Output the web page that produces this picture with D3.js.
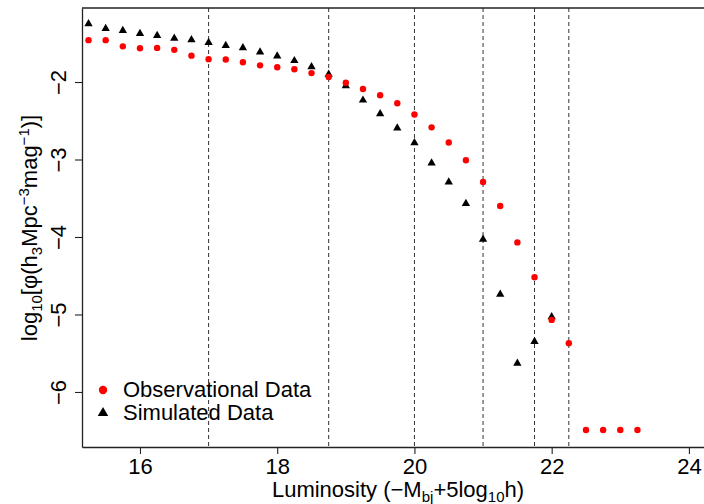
<!DOCTYPE html>
<html>
<head>
<meta charset="utf-8">
<script src="https://cdn.jsdelivr.net/npm/d3@7"></script>
<style>
  body { margin: 0; background: #fff; }
  text { font-family: "Liberation Sans", Arial, sans-serif; }
</style>
</head>
<body>
<svg id="chart" width="704" height="504"></svg>
<script>
// luminosity bins
var obsX = [15.25, 15.5, 15.75, 16, 16.25, 16.5, 16.75, 17, 17.25, 17.5, 17.75, 18, 18.25, 18.5, 18.75,
  19, 19.25, 19.5, 19.75, 20, 20.25, 20.5, 20.75, 21, 21.25, 21.5, 21.75, 22, 22.25, 22.5, 22.75, 23, 23.25];
var obsY = [-1.46, -1.46, -1.54, -1.565, -1.56, -1.585, -1.66, -1.705, -1.71, -1.745, -1.785, -1.81, -1.835, -1.885, -1.935,
  -2.01, -2.09, -2.17, -2.275, -2.42, -2.585, -2.78, -3.01, -3.29, -3.6, -4.07, -4.52, -5.07, -5.37, -6.49, -6.49, -6.49, -6.49];

var simX = [15.25, 15.5, 15.75, 16, 16.25, 16.5, 16.75, 17, 17.25, 17.5, 17.75, 18, 18.25, 18.5, 18.75,
  19, 19.25, 19.5, 19.75, 20, 20.25, 20.5, 20.75, 21, 21.25, 21.5, 21.75, 22];
var simY = [-1.25, -1.31, -1.335, -1.375, -1.4, -1.435, -1.455, -1.49, -1.53, -1.56, -1.615, -1.665, -1.725, -1.805, -1.9,
  -2.05, -2.235, -2.41, -2.595, -2.785, -3.045, -3.29, -3.57, -4.03, -4.74, -5.63, -5.35, -5.03];

var cutLines = [17, 18.75, 20, 21, 21.75, 22.25];
var xTicks = [16, 18, 20, 22, 24];
var yTicks = [-2, -3, -4, -5, -6];

(function () {
var svg = d3.select("#chart");
var W = 704;
var pLeft = 82, pTop = 8, pBottom = 447;
var fs = 22;

var x = d3.scaleLinear().domain([15.155, 24.22]).range([pLeft, W]);
var y = d3.scaleLinear().domain([-6.71, -1.045]).range([pBottom, pTop]);

// dashed cut lines
svg.selectAll(".cut")
  .data(cutLines)
  .enter()
  .append("line")
  .attr("x1", d => x(d)).attr("x2", d => x(d))
  .attr("y1", pTop).attr("y2", pBottom)
  .attr("stroke", "#333")
  .attr("stroke-width", 1)
  .attr("stroke-dasharray", "4,3");

// frame top
svg.append("line")
  .attr("x1", pLeft).attr("x2", W)
  .attr("y1", pTop).attr("y2", pTop)
  .attr("stroke", "#222").attr("stroke-width", 1.3);

// axes
var xAxis = svg.append("g")
  .attr("transform", "translate(0," + pBottom + ")")
  .call(d3.axisBottom(x).tickValues(xTicks).tickSize(7).tickSizeOuter(0).tickPadding(4));
var yAxis = svg.append("g")
  .attr("transform", "translate(" + pLeft + ",0)")
  .call(d3.axisLeft(y).tickValues(yTicks).tickSize(7).tickSizeOuter(0)
    .tickFormat(d => "\u2212" + Math.abs(d)));

[xAxis, yAxis].forEach(function (g) {
  g.select(".domain").attr("stroke", "#222").attr("stroke-width", 1.3);
  g.selectAll(".tick line").attr("stroke", "#222").attr("stroke-width", 1.1);
  g.selectAll("text").attr("font-size", fs).attr("fill", "#000")
    .style("font-family", "'Liberation Sans', Arial, sans-serif");
});

// y tick labels are vertical like in R
yAxis.selectAll(".tick text")
  .attr("x", 0).attr("dy", 0)
  .attr("text-anchor", "middle")
  .attr("transform", "translate(-16,0) rotate(-90)");

// simulated data triangles
var tri = d3.symbol().type(d3.symbolTriangle).size(30);
svg.selectAll(".sim")
  .data(simX.map((d, i) => [d, simY[i]]))
  .enter()
  .append("path")
  .attr("d", tri)
  .attr("transform", d => "translate(" + x(d[0]) + "," + y(d[1]) + ")")
  .attr("fill", "#000");

// observational data circles
svg.selectAll(".obs")
  .data(obsX.map((d, i) => [d, obsY[i]]))
  .enter()
  .append("circle")
  .attr("cx", d => x(d[0]))
  .attr("cy", d => y(d[1]))
  .attr("r", 3.2)
  .attr("fill", "#ff0000");

// axis titles
var xt = svg.append("text")
  .attr("x", 398).attr("y", 497)
  .attr("text-anchor", "middle")
  .attr("font-size", fs);
xt.append("tspan").text("Luminosity (\u2212M");
xt.append("tspan").attr("font-size", 15).attr("dy", 5).text("bj");
xt.append("tspan").attr("dy", -5).text("+5log");
xt.append("tspan").attr("font-size", 15).attr("dy", 5).text("10");
xt.append("tspan").attr("dy", -5).text("h)");

var yt = svg.append("text")
  .attr("transform", "translate(37,228) rotate(-90)")
  .attr("text-anchor", "middle")
  .attr("font-size", fs);
yt.append("tspan").text("log");
yt.append("tspan").attr("font-size", 15).attr("dy", 5).text("10");
yt.append("tspan").attr("dy", -5).text("[\u03c6(h");
yt.append("tspan").attr("font-size", 15).attr("dy", 5).text("3");
yt.append("tspan").attr("dy", -5).text("Mpc");
yt.append("tspan").attr("font-size", 15).attr("dy", -8).text("\u22123");
yt.append("tspan").attr("dy", 8).text("mag");
yt.append("tspan").attr("font-size", 15).attr("dy", -8).text("\u22121");
yt.append("tspan").attr("dy", 8).text(")]");

// legend
var legend = svg.append("g");
legend.append("circle").attr("cx", 103).attr("cy", 390).attr("r", 4.2).attr("fill", "#ff0000");
legend.append("path").attr("d", d3.symbol().type(d3.symbolTriangle).size(48)())
  .attr("transform", "translate(103,413)").attr("fill", "#000");
legend.append("text").attr("x", 123).attr("y", 397).attr("font-size", fs).text("Observational Data");
legend.append("text").attr("x", 123).attr("y", 420).attr("font-size", fs).text("Simulated Data");
})();
</script>
</body>
</html>
